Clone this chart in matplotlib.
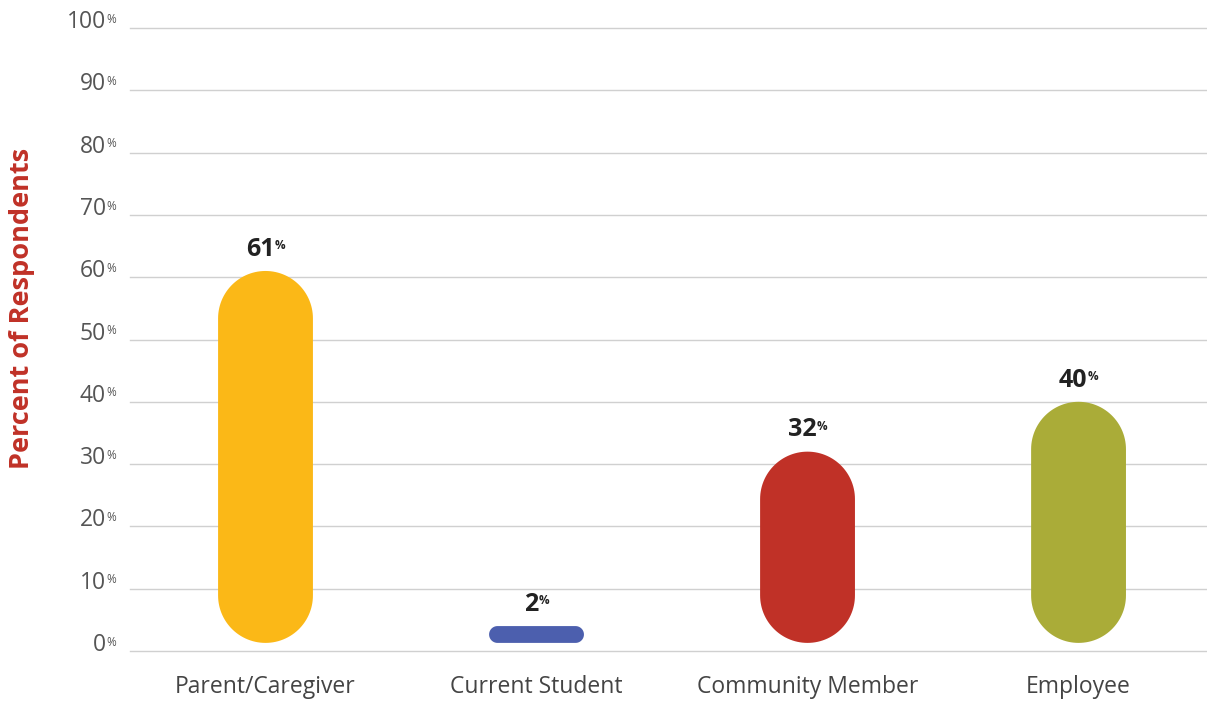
import numpy as np
import matplotlib
matplotlib.use("Agg")
import matplotlib.pyplot as plt
from matplotlib.patches import Polygon

plt.rcParams['font.family'] = ['Open Sans', 'DejaVu Sans']

categories = ["Parent/Caregiver", "Current Student", "Community Member", "Employee"]
values = [61, 2, 32, 40]
colors = ["#FBB817", "#4C5FAE", "#C03127", "#AAAC38"]
yticks = [0, 10, 20, 30, 40, 50, 60, 70, 80, 90, 100]

BAR_W = 0.35
BASE = 1.3       # bars float just above the zero line
MIN_TOP = 4.0    # smallest bar still shows as a flat pill


def pill(ax, xc, y0, y1, w, color):
    # rounded rectangle that looks circular in pixels
    fig = ax.figure
    fw, fh = fig.get_size_inches() * fig.dpi
    pos = ax.get_position()
    x0l, x1l = ax.get_xlim()
    y0l, y1l = ax.get_ylim()
    ppx = pos.width * fw / (x1l - x0l)
    ppy = pos.height * fh / (y1l - y0l)
    R = min(w * ppx, (y1 - y0) * ppy) / 2
    rx, ry = R / ppx, R / ppy
    left, right = xc - w / 2, xc + w / 2
    pts = []
    corners = [(right - rx, y1 - ry, 0), (left + rx, y1 - ry, 90),
               (left + rx, y0 + ry, 180), (right - rx, y0 + ry, 270)]
    for cx, cy, a0 in corners:
        t = np.radians(np.linspace(a0, a0 + 90, 30))
        pts += list(zip(cx + rx * np.cos(t), cy + ry * np.sin(t)))
    ax.add_patch(Polygon(pts, closed=True, facecolor=color, edgecolor="none", zorder=3))


def with_pct(ax, txt, xy, xycoords, offset, ha, size, pct_size, rise, **kw):
    # number followed by a small raised % sign
    t = ax.annotate(txt, xy=xy, xycoords=xycoords, xytext=offset,
                    textcoords="offset points", ha=ha, va="baseline", fontsize=size, **kw)
    r = ax.figure.canvas.get_renderer()
    bb = t.get_window_extent(renderer=r)
    ax.annotate("%", xy=(bb.x1 + 0.5, bb.y0), xycoords="figure pixels",
                xytext=(0, rise), textcoords="offset points",
                ha="left", va="bottom", fontsize=pct_size, **kw)


fig = plt.figure(figsize=(12.07, 7.04), dpi=100)
ax = fig.add_axes([130 / 1207, 53 / 704, 1077 / 1207, 623 / 704])
ax.set_xlim(-0.5, 3.474)
ax.set_ylim(0, 100)

for s in ax.spines.values():
    s.set_visible(False)
ax.set_yticks(yticks)
ax.set_yticklabels([])
ax.set_xticks([])
ax.tick_params(left=False, bottom=False)
ax.yaxis.grid(True, color="#d0d0d0", linewidth=1.0, zorder=0)
for gl in ax.get_ygridlines():
    gl.set_clip_on(False)

for i, (v, c) in enumerate(zip(values, colors)):
    top = max(v, MIN_TOP)
    pill(ax, i, BASE, top, BAR_W, c)
    with_pct(ax, str(v), (i, top), "data", (-4, 11), "center", 18, 8.5, 7,
             fontweight="bold", color="#222222")
    ax.annotate(categories[i], xy=(i, 0), xytext=(0, -26), textcoords="offset points",
                ha="center", va="center", fontsize=16.5, color="#444444")

for y in yticks:
    with_pct(ax, str(y), (0, y), ("axes fraction", "data"), (-17.5, 0), "right", 16.5, 8.5, 6,
             color="#555555")

fig.text(22 / 1207, 1 - 308 / 704, "Percent of Respondents", rotation=90,
         ha="center", va="center", fontsize=19.5, fontweight="bold", color="#C03127")

fig.savefig("out.png", dpi=100)
